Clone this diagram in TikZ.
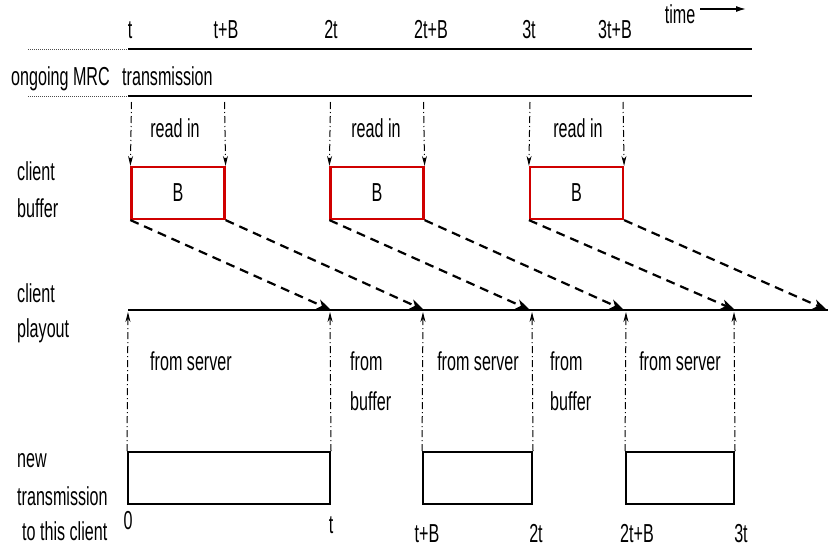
\documentclass[tikz,border=0pt]{standalone}
\usepackage{fontspec}
\setmainfont[FakeStretch=0.62]{Liberation Sans}
\usetikzlibrary{arrows.meta,calc}
\definecolor{bufred}{RGB}{208,0,0}
\newcommand\lblfont{\fontsize{26}{30}\selectfont}
\begin{document}
\begin{tikzpicture}[x=1pt,y=-1pt,
  txt/.style={font=\lblfont, inner sep=0pt, anchor=base},
  ltxt/.style={font=\lblfont, inner sep=0pt, anchor=base west},
  tline/.style={line width=2.2pt},
  guide/.style={line width=0.8pt, dash pattern=on 1pt off 1pt, black!70},
  bufbox/.style={draw=bufred, line width=2.2pt, minimum width=93pt, minimum height=52pt, inner sep=0pt, font=\lblfont},
  txbox/.style={draw=black, line width=2pt, minimum height=52pt, inner sep=0pt},
  ddarrow/.style={line width=1pt, dash pattern=on 7pt off 3pt on 1pt off 3pt, -{Stealth[length=10pt,width=5pt]}},
  feed/.style={line width=2.2pt, dash pattern=on 9pt off 6pt, -{Stealth[length=14pt,width=10pt,inset=4pt]}},
]
\useasboundingbox (0,0) rectangle (830,557);

% top time labels
\node[txt] (lt)   at (130,38) {t};
\node[txt] (ltB)  at (226,38) {t+B};
\node[txt] (l2t)  at (331,38) {2t};
\node[txt] (l2tB) at (431,38) {2t+B};
\node[txt] (l3t)  at (529,38) {3t};
\node[txt] (l3tB) at (615,38) {3t+B};
\node[txt] (ltime) at (680,23) {time};
\coordinate (tm0) at (700,9);
\coordinate (tm1) at (746,9);
\draw[line width=1.4pt,-{Latex[length=10pt,width=6pt]}] (tm0) -- (tm1);

% MRC transmission lines
\coordinate (g1) at (28,49);  \coordinate (m1s) at (128,49);  \coordinate (m1e) at (752,49);
\coordinate (g2) at (28,96);  \coordinate (m2s) at (128,96);  \coordinate (m2e) at (752,96);
\draw[guide] (g1) -- (m1s);
\draw[guide] (g2) -- (m2s);
\draw[tline] (m1s) -- (m1e);
\draw[tline] (m2s) -- (m2e);
\node[ltxt] (mrc) at (11,85) {ongoing MRC};
\node[ltxt] (trans) at (122,85) {transmission};

% client buffer
\node[ltxt] (cb1) at (17,180) {client};
\node[ltxt] (cb2) at (17,217) {buffer};
\node[bufbox] (b1) at (178,193) {B};
\node[bufbox] (b2) at (377,193) {B};
\node[bufbox] (b3) at (576.5,193) {B};
\node[txt] (ri1) at (175,137) {read in};
\node[txt] (ri2) at (376,137) {read in};
\node[txt] (ri3) at (578,137) {read in};
\coordinate (ra1) at (131.5,102);
\coordinate (ra2) at (224.5,102);
\coordinate (ra3) at (330.5,102);
\coordinate (ra4) at (423.5,102);
\coordinate (ra5) at (530,102);
\coordinate (ra6) at (623,102);
\draw[ddarrow] (ra1) -- (b1.north west);
\draw[ddarrow] (ra2) -- (b1.north east);
\draw[ddarrow] (ra3) -- (b2.north west);
\draw[ddarrow] (ra4) -- (b2.north east);
\draw[ddarrow] (ra5) -- (b3.north west);
\draw[ddarrow] (ra6) -- (b3.north east);

% client playout
\node[ltxt] (cp1) at (17,302) {client};
\node[ltxt] (cp2) at (17,337) {playout};
\coordinate (pl0) at (128,310);
\coordinate (pl1) at (828,310);
\draw[tline] (pl0) -- (pl1);
\coordinate (f1) at (331,310);
\coordinate (f2) at (424,310);
\coordinate (f3) at (530,310);
\coordinate (f4) at (624,310);
\coordinate (f5) at (735,310);
\coordinate (f6) at (827,310);
\draw[feed] (b1.south west) -- (f1);
\draw[feed] (b1.south east) -- (f2);
\draw[feed] (b2.south west) -- (f3);
\draw[feed] (b2.south east) -- (f4);
\draw[feed] (b3.south west) -- (f5);
\draw[feed] (b3.south east) -- (f6);

\node[txt] (fs1) at (191,370) {from server};
\node[txt] (fs2) at (478,370) {from server};
\node[txt] (fs3) at (680,370) {from server};
\node[ltxt] (fb1a) at (350,370) {from};
\node[ltxt] (fb1b) at (350,410) {buffer};
\node[ltxt] (fb2a) at (550,370) {from};
\node[ltxt] (fb2b) at (550,410) {buffer};

% new transmission
\node[ltxt] (nt1) at (17,467) {new};
\node[ltxt] (nt2) at (17,505) {transmission};
\node[ltxt] (nt3) at (22,540) {to this client};
\node[txbox, minimum width=202pt] (nA) at (229,478) {};
\node[txbox, minimum width=109pt] (nB) at (477.5,478) {};
\node[txbox, minimum width=108pt] (nC) at (680,478) {};
\coordinate (q1) at (128,312);
\coordinate (q2) at (330,312);
\coordinate (q3) at (423,312);
\coordinate (q4) at (532,312);
\coordinate (q5) at (626,312);
\coordinate (q6) at (734,312);
\draw[ddarrow] (nA.north west) -- (q1);
\draw[ddarrow] (nA.north east) -- (q2);
\draw[ddarrow] (nB.north west) -- (q3);
\draw[ddarrow] (nB.north east) -- (q4);
\draw[ddarrow] (nC.north west) -- (q5);
\draw[ddarrow] (nC.north east) -- (q6);

\node[txt] (b0) at (128,529) {0};
\node[txt] (bt) at (331,533) {t};
\node[txt] (btB) at (427,542) {t+B};
\node[txt] (b2t) at (536,542) {2t};
\node[txt] (b2tB) at (637,542) {2t+B};
\node[txt] (b3t) at (741,542) {3t};
\end{tikzpicture}
\end{document}
